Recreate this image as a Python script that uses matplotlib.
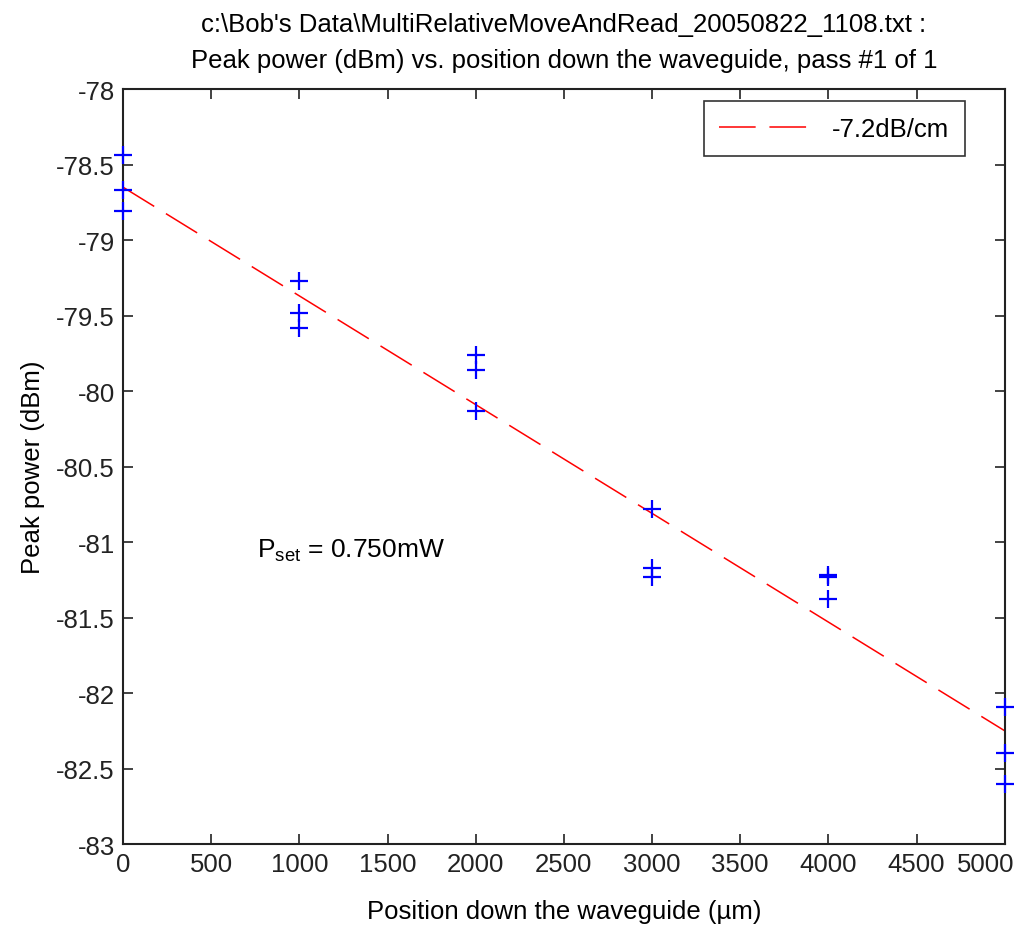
import numpy as np
import matplotlib
matplotlib.use("Agg")
import matplotlib.pyplot as plt
from matplotlib.transforms import ScaledTranslation

# ---------- DATA ----------
positions_um = [0, 0, 0,
                1000, 1000, 1000,
                2000, 2000, 2000,
                3000, 3000, 3000,
                4000, 4000, 4000,
                5000, 5000, 5000]
peak_dbm = [-78.44, -78.67, -78.81,
            -79.27, -79.48, -79.58,
            -79.76, -79.86, -80.13,
            -80.78, -81.17, -81.23,
            -81.22, -81.23, -81.38,
            -82.09, -82.40, -82.60]
fit_intercept = -78.65      # dBm at 0 um
fit_slope_db_cm = -7.2      # dB/cm
fit_label = "-7.2dB/cm"
xticks = [0, 500, 1000, 1500, 2000, 2500, 3000, 3500, 4000, 4500, 5000]
yticks = [-83, -82.5, -82, -81.5, -81, -80.5, -80, -79.5, -79, -78.5, -78]

# ---------- FONT ----------
fam = "Liberation Sans"
plt.rcParams["font.family"] = [fam, "DejaVu Sans"]
plt.rcParams["mathtext.fontset"] = "custom"
plt.rcParams["mathtext.rm"] = fam
plt.rcParams["mathtext.it"] = fam
FS = 18.5

fig = plt.figure(figsize=(10.2, 9.28), dpi=100)
ax = fig.add_axes([0.1206, 0.0894, 0.8644, 0.8136])

ax.plot(positions_um, peak_dbm, "b+", markersize=13, markeredgewidth=1.6,
        zorder=3, clip_on=False)

fit_x = np.array([0, 5000])
fit_y = fit_intercept + fit_slope_db_cm * fit_x / 1e4
ax.plot(fit_x, fit_y, color="red", linewidth=1.1, dashes=(24, 9), label=fit_label, zorder=2)

ax.set_xlim(0, 5000)
ax.set_ylim(-83, -78)
ax.set_xticks(xticks)
ax.set_yticks(yticks)
ax.set_xticklabels([str(t) for t in xticks])
ax.set_yticklabels([("%g" % t) for t in yticks])
ax.tick_params(direction="in", length=7, width=1.2, top=True, right=True,
               labelsize=FS, colors="#222222", pad=6)
for s in ax.spines.values():
    s.set_linewidth(1.5)
    s.set_color("#222222")

# keep the last x label inside the figure
last = ax.get_xticklabels()[-1]
last.set_transform(last.get_transform() + ScaledTranslation(-14 / 72, 0, fig.dpi_scale_trans))

ax.set_xlabel("Position down the waveguide (\u00b5m)", fontsize=FS, labelpad=16)
ax.set_ylabel("Peak power (dBm)", fontsize=FS, labelpad=8)
ax.set_title("c:\\Bob's Data\\MultiRelativeMoveAndRead_20050822_1108.txt :\n"
             "Peak power (dBm) vs. position down the waveguide, pass #1 of 1",
             fontsize=FS, linespacing=1.6, pad=16)

ax.text(760, -81.1, r"P$_{\rm set}$ = 0.750mW", fontsize=FS + 0.5)

leg = ax.legend(loc="upper right", bbox_to_anchor=(0.9546, 0.984), fontsize=FS,
                frameon=True, fancybox=False, edgecolor="black", borderpad=0.6,
                handlelength=3.6, borderaxespad=0.0)
leg.get_frame().set_linewidth(1.2)

fig.savefig("out.png", dpi=100)
